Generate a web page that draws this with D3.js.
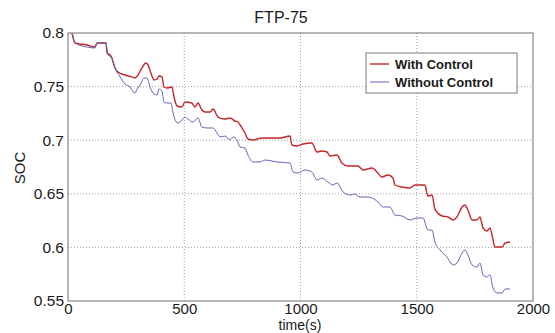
<!DOCTYPE html>
<html>
<head>
  <meta charset="UTF-8">
  <style>
    body {
      margin: 0;
      padding: 0;
      background-color: #ffffff;
      font-family: "Liberation Sans", Arial, sans-serif;
    }
    svg {
      display: block;
    }
    .tick text {
      font-size: 15.5px;
      fill: #1a1a1a;
    }
    #legend text {
      font-size: 13px;
      font-weight: bold;
      fill: #1a1a1a;
    }
  </style>
</head>
<body>
  <svg></svg>
  <script src="https://d3js.org/d3.v7.min.js"></script>

  <script>
  // SOC over the FTP-75 cycle
  const timeWith = [0, 17, 30, 82, 116, 125, 163, 168, 181, 189, 202, 215, 245, 275, 288, 301, 318, 335, 344, 361,
      370, 383, 391, 404, 413, 426, 447, 456, 469, 490, 503, 533, 546, 559, 576, 589, 611, 624, 645, 675,
      697, 718, 731, 748, 761, 774, 796, 834, 869, 912, 955, 963, 985, 1011, 1049, 1071, 1092, 1114, 1127, 1157,
      1178, 1204, 1247, 1269, 1308, 1329, 1350, 1376, 1398, 1406, 1437, 1471, 1492, 1535, 1548, 1566, 1578, 1609, 1634, 1656,
      1673, 1695, 1707, 1720, 1738, 1759, 1772, 1785, 1802, 1815, 1828, 1836, 1867, 1880, 1901];
  const socWith = [0.812, 0.800, 0.7907, 0.7888, 0.7869, 0.7907, 0.7907, 0.7813, 0.7795, 0.7767, 0.7674, 0.7636, 0.7608, 0.7590, 0.7580, 0.7608, 0.7674, 0.7720, 0.7702, 0.7599,
      0.7562, 0.7571, 0.7599, 0.7590, 0.7496, 0.7487, 0.7496, 0.7403, 0.7319, 0.7310, 0.7356, 0.7347, 0.7310, 0.7347, 0.7282, 0.7263, 0.7263, 0.7291, 0.7216, 0.7198,
      0.7207, 0.7179, 0.7170, 0.7114, 0.7067, 0.7011, 0.7002, 0.7021, 0.7021, 0.7021, 0.7039, 0.6955, 0.6946, 0.6965, 0.6974, 0.6890, 0.6899, 0.6890, 0.6853, 0.6862,
      0.6787, 0.6759, 0.6759, 0.6722, 0.6741, 0.6703, 0.6657, 0.6675, 0.6647, 0.6582, 0.6563, 0.6554, 0.6582, 0.6582, 0.6479, 0.6489, 0.6359, 0.6293, 0.6284, 0.6256,
      0.6284, 0.6377, 0.6396, 0.6349, 0.6256, 0.6256, 0.6284, 0.6181, 0.6153, 0.6181, 0.6069, 0.6004, 0.6004, 0.6041, 0.6050];

  const timeWithout = [0, 17, 30, 82, 116, 125, 163, 172, 185, 202, 211, 224, 245, 267, 280, 288, 297, 310, 327, 340,
      353, 366, 383, 391, 404, 413, 426, 443, 452, 465, 473, 490, 503, 516, 538, 559, 576, 598, 624, 641,
      654, 675, 697, 710, 727, 740, 761, 774, 796, 826, 847, 899, 955, 968, 989, 1019, 1049, 1071, 1092, 1118,
      1140, 1157, 1183, 1213, 1234, 1256, 1286, 1308, 1333, 1355, 1385, 1406, 1437, 1471, 1501, 1527, 1548, 1566, 1578, 1600,
      1630, 1656, 1673, 1695, 1707, 1720, 1738, 1759, 1772, 1785, 1802, 1815, 1828, 1845, 1867, 1880, 1901];
  const socWithout = [0.812, 0.800, 0.7907, 0.7869, 0.7860, 0.7907, 0.7907, 0.7795, 0.7776, 0.7674, 0.7636, 0.7590, 0.7524, 0.7496, 0.7450, 0.7440, 0.7478, 0.7515, 0.7580, 0.7580,
      0.7496, 0.7440, 0.7422, 0.7478, 0.7459, 0.7356, 0.7347, 0.7347, 0.7254, 0.7170, 0.7160, 0.7188, 0.7216, 0.7198, 0.7170, 0.7207, 0.7123, 0.7114, 0.7114, 0.7067,
      0.7030, 0.7039, 0.7002, 0.7030, 0.7002, 0.6937, 0.6927, 0.6862, 0.6797, 0.6797, 0.6815, 0.6797, 0.6787, 0.6703, 0.6694, 0.6722, 0.6703, 0.6629, 0.6647, 0.6610,
      0.6582, 0.6601, 0.6517, 0.6489, 0.6498, 0.6470, 0.6470, 0.6461, 0.6424, 0.6377, 0.6377, 0.6302, 0.6293, 0.6256, 0.6274, 0.6274, 0.6162, 0.6162, 0.6050, 0.5976,
      0.5910, 0.5836, 0.5855, 0.5948, 0.5976, 0.5929, 0.5836, 0.5817, 0.5855, 0.5743, 0.5724, 0.5743, 0.5621, 0.5575, 0.5575, 0.5612, 0.5612];

  const xTicks = [0, 500, 1000, 1500, 2000];
  const yTicks = [0.55, 0.6, 0.65, 0.7, 0.75, 0.8];
  const seriesNames = ["With Control", "Without Control"];
  const seriesColors = ["#c4262b", "#5f66b5"];

  let width = 555, height = 333;
  let margin = {top: 33, right: 22, bottom: 32, left: 68};

  let svg = d3.select("svg")
      .attr("width", width)
      .attr("height", height);

  let x = d3.scaleLinear().domain([0, 2000]).range([margin.left, width - margin.right]);
  let y = d3.scaleLinear().domain([0.55, 0.8]).range([height - margin.bottom, margin.top]);

  // dotted grid
  svg.append("g")
      .selectAll("line")
      .data(xTicks.slice(1, -1))
      .enter()
      .append("line")
      .attr("x1", d => x(d)).attr("x2", d => x(d))
      .attr("y1", y(0.55)).attr("y2", y(0.8))
      .attr("stroke", "#8a8a8a")
      .attr("stroke-width", 0.8)
      .attr("stroke-dasharray", "1,2");

  svg.append("g")
      .selectAll("line")
      .data(yTicks.slice(1, -1))
      .enter()
      .append("line")
      .attr("x1", x(0)).attr("x2", x(2000))
      .attr("y1", d => y(d)).attr("y2", d => y(d))
      .attr("stroke", "#8a8a8a")
      .attr("stroke-width", 0.8)
      .attr("stroke-dasharray", "1,2");

  svg.append("defs").append("clipPath")
      .attr("id", "plotClip")
      .append("rect")
      .attr("x", x(0)).attr("y", y(0.8))
      .attr("width", x(2000) - x(0))
      .attr("height", y(0.55) - y(0.8));

  let line = d3.line()
      .x(d => x(d[0]))
      .y(d => y(d[1]))
      .curve(d3.curveMonotoneX);

  let lines = svg.append("g").attr("clip-path", "url(#plotClip)");

  lines.append("path")
      .datum(d3.zip(timeWith, socWith))
      .attr("d", line)
      .attr("fill", "none")
      .attr("stroke", seriesColors[0])
      .attr("stroke-width", 1.4);

  lines.append("path")
      .datum(d3.zip(timeWithout, socWithout))
      .attr("d", line)
      .attr("fill", "none")
      .attr("stroke", seriesColors[1])
      .attr("stroke-width", 1);

  // axes
  let xAxis = svg.append("g")
      .attr("transform", `translate(0, ${height - margin.bottom})`)
      .call(d3.axisBottom(x).tickValues(xTicks).tickFormat(d3.format("d")).tickSize(0).tickPadding(2));

  let yAxis = svg.append("g")
      .attr("transform", `translate(${margin.left}, 0)`)
      .call(d3.axisLeft(y).tickValues(yTicks).tickFormat(d => d3.format("")(+d.toFixed(2))).tickSize(0).tickPadding(4));

  xAxis.select(".domain").remove();
  yAxis.select(".domain").remove();
  xAxis.selectAll("text")
      .attr("font-family", "Liberation Sans, Arial, sans-serif")
      .style("font-size", "15px");
  yAxis.selectAll("text").attr("font-family", "Liberation Sans, Arial, sans-serif");

  svg.append("rect")
      .attr("x", x(0)).attr("y", y(0.8))
      .attr("width", x(2000) - x(0))
      .attr("height", y(0.55) - y(0.8))
      .attr("fill", "none")
      .attr("stroke", "#6e6e6e")
      .attr("stroke-width", 1);

  // titles
  svg.append("text")
      .attr("x", 281)
      .attr("y", 23)
      .attr("text-anchor", "middle")
      .attr("font-size", "16px")
      .attr("fill", "#1a1a1a")
      .text("FTP-75");

  svg.append("text")
      .attr("x", 300)
      .attr("y", 330)
      .attr("text-anchor", "middle")
      .attr("font-size", "14px")
      .attr("fill", "#1a1a1a")
      .text("time(s)");

  svg.append("text")
      .attr("transform", "translate(25, 168) rotate(-90)")
      .attr("text-anchor", "middle")
      .attr("font-size", "15px")
      .attr("fill", "#1a1a1a")
      .text("SOC");

  // legend
  const legend = svg.append("g")
      .attr("id", "legend")
      .attr("transform", "translate(366, 53)");

  legend.append("rect")
      .attr("x", 0).attr("y", 0)
      .attr("width", 151).attr("height", 40)
      .attr("fill", "white")
      .attr("stroke", "#7a7a7a")
      .attr("stroke-width", 1);

  legend.selectAll("line")
      .data(seriesNames)
      .enter()
      .append("line")
      .attr("x1", 4).attr("x2", 23)
      .attr("y1", (d, i) => 11 + i * 18)
      .attr("y2", (d, i) => 11 + i * 18)
      .attr("stroke", (d, i) => seriesColors[i])
      .attr("stroke-width", (d, i) => i === 0 ? 1.4 : 1);

  legend.selectAll("text")
      .data(seriesNames)
      .enter()
      .append("text")
      .attr("x", 29)
      .attr("y", (d, i) => 16 + i * 18)
      .text(d => d);
  </script>

</body>
</html>
